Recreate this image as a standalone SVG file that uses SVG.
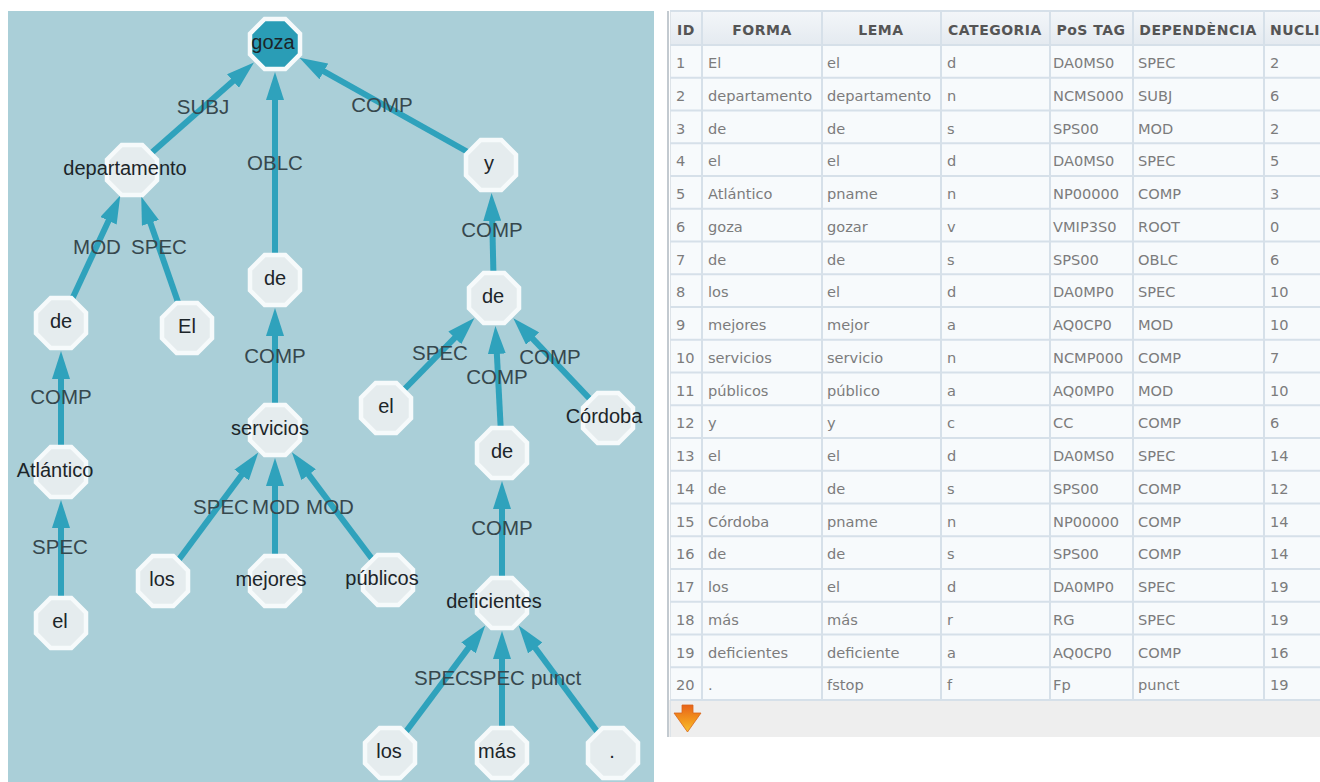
<svg xmlns="http://www.w3.org/2000/svg" xmlns:xlink="http://www.w3.org/1999/xlink" width="1320" height="782" viewBox="0 0 1320 782">
<style>
.panel{fill:#AACFD8}
.edge{stroke:#2FA2BC;stroke-width:6;fill:none;marker-end:url(#ah)}
.elab{font-family:"Liberation Sans",Arial,sans-serif;font-size:20.5px;fill:#36474D;text-anchor:middle}
.node{fill:#E5ECEE;stroke:#F6FAFB;stroke-width:4.5}
.root{fill:#2A9DB6}
.nlab{font-family:"Liberation Sans",Arial,sans-serif;font-size:20px;fill:#1C2529;stroke:none;text-anchor:middle}
.th{font-family:"DejaVu Sans",Verdana,sans-serif;font-weight:bold;font-size:14px;letter-spacing:0.5px;fill:#555;text-anchor:middle}
.td{font-family:"DejaVu Sans",Verdana,sans-serif;font-size:14.6px;fill:#7C7C7C}
.grid{stroke:#D6E0E9;stroke-width:2;fill:none}
</style>
<defs>
<marker id="ah" viewBox="0 0 28 18" markerWidth="28" markerHeight="18" refX="1" refY="9" orient="auto" markerUnits="userSpaceOnUse">
<path d="M0,0 L28,9 L0,18 z" fill="#2FA2BC"/>
</marker>
<polygon id="oct" points="-10.36,-25 10.36,-25 25,-10.36 25,10.36 10.36,25 -10.36,25 -25,10.36 -25,-10.36"/>
<linearGradient id="hdr" x1="0" y1="0" x2="0" y2="1">
<stop offset="0" stop-color="#F3F6F9"/><stop offset="1" stop-color="#E4EAF0"/>
</linearGradient>
<linearGradient id="org" x1="0" y1="0" x2="0" y2="1">
<stop offset="0" stop-color="#E8631A"/><stop offset="0.6" stop-color="#F39A1E"/><stop offset="1" stop-color="#F7C12E"/>
</linearGradient>
</defs>
<rect width="1320" height="782" fill="#FFFFFF"/>
<rect class="panel" x="8" y="11" width="646" height="771"/>

<g id="connectors">
<line class="edge" x1="132" y1="170" x2="233.7" y2="80.4"/>
<line class="edge" x1="275" y1="280" x2="275" y2="99"/>
<line class="edge" x1="491" y1="165" x2="323" y2="70.9"/>
<line class="edge" x1="61" y1="323" x2="108.9" y2="219.9"/>
<line class="edge" x1="187" y1="328" x2="150.1" y2="221.9"/>
<line class="edge" x1="275" y1="430" x2="275" y2="335"/>
<line class="edge" x1="494" y1="298" x2="492.2" y2="220"/>
<line class="edge" x1="61" y1="472" x2="61" y2="378"/>
<line class="edge" x1="163" y1="581" x2="242.2" y2="474.2"/>
<line class="edge" x1="275" y1="581" x2="275" y2="485"/>
<line class="edge" x1="388" y1="580" x2="308.1" y2="473.9"/>
<line class="edge" x1="386" y1="408" x2="455.5" y2="337.2"/>
<line class="edge" x1="502" y1="453" x2="496.8" y2="352.9"/>
<line class="edge" x1="608" y1="418" x2="531.9" y2="337.9"/>
<line class="edge" x1="61" y1="623" x2="61" y2="527"/>
<line class="edge" x1="502" y1="603" x2="502" y2="508"/>
<line class="edge" x1="390" y1="753" x2="469.1" y2="647.1"/>
<line class="edge" x1="502" y1="753" x2="502" y2="658"/>
<line class="edge" x1="613" y1="753" x2="534.7" y2="647.2"/>
<g id="edge-labels">
<text class="elab" x="203" y="114">SUBJ</text>
<text class="elab" x="275" y="170">OBLC</text>
<text class="elab" x="382" y="112">COMP</text>
<text class="elab" x="97" y="254">MOD</text>
<text class="elab" x="159" y="254">SPEC</text>
<text class="elab" x="492" y="237">COMP</text>
<text class="elab" x="61" y="404">COMP</text>
<text class="elab" x="275" y="363">COMP</text>
<text class="elab" x="440" y="360">SPEC</text>
<text class="elab" x="497" y="384">COMP</text>
<text class="elab" x="550" y="364">COMP</text>
<text class="elab" x="60" y="554">SPEC</text>
<text class="elab" x="221" y="514">SPEC</text>
<text class="elab" x="276" y="514">MOD</text>
<text class="elab" x="330" y="514">MOD</text>
<text class="elab" x="502" y="535">COMP</text>
<text class="elab" x="442" y="685">SPEC</text>
<text class="elab" x="497" y="685">SPEC</text>
<text class="elab" x="556" y="685">punct</text>
</g>
</g>

<g id="n6" class="node root"><use href="#oct" x="275" y="44"/><text class="nlab" x="273" y="49">goza</text></g>
<g id="n2" class="node"><use href="#oct" x="132" y="170"/><text class="nlab" x="125" y="175">departamento</text></g>
<g id="n7" class="node"><use href="#oct" x="275" y="280"/><text class="nlab" x="275" y="285">de</text></g>
<g id="n12" class="node"><use href="#oct" x="491" y="165"/><text class="nlab" x="489" y="170">y</text></g>
<g id="n3" class="node"><use href="#oct" x="61" y="323"/><text class="nlab" x="61" y="328">de</text></g>
<g id="n1" class="node"><use href="#oct" x="187" y="328"/><text class="nlab" x="187" y="333">El</text></g>
<g id="n14" class="node"><use href="#oct" x="494" y="298"/><text class="nlab" x="493" y="303">de</text></g>
<g id="n5" class="node"><use href="#oct" x="61" y="472"/><text class="nlab" x="55" y="477">Atlántico</text></g>
<g id="n10" class="node"><use href="#oct" x="275" y="430"/><text class="nlab" x="270" y="435">servicios</text></g>
<g id="n13" class="node"><use href="#oct" x="386" y="408"/><text class="nlab" x="386" y="413">el</text></g>
<g id="n15" class="node"><use href="#oct" x="608" y="418"/><text class="nlab" x="604" y="423">Córdoba</text></g>
<g id="n16" class="node"><use href="#oct" x="502" y="453"/><text class="nlab" x="502" y="458">de</text></g>
<g id="n4" class="node"><use href="#oct" x="61" y="623"/><text class="nlab" x="60" y="628">el</text></g>
<g id="n8" class="node"><use href="#oct" x="163" y="581"/><text class="nlab" x="162" y="586">los</text></g>
<g id="n9" class="node"><use href="#oct" x="275" y="581"/><text class="nlab" x="271" y="586">mejores</text></g>
<g id="n11" class="node"><use href="#oct" x="388" y="580"/><text class="nlab" x="382" y="585">públicos</text></g>
<g id="n19" class="node"><use href="#oct" x="502" y="603"/><text class="nlab" x="494" y="608">deficientes</text></g>
<g id="n17" class="node"><use href="#oct" x="390" y="753"/><text class="nlab" x="389" y="758">los</text></g>
<g id="n18" class="node"><use href="#oct" x="502" y="753"/><text class="nlab" x="497" y="758">más</text></g>
<g id="n20" class="node"><use href="#oct" x="613" y="753"/><text class="nlab" x="612" y="758">.</text></g>

<g id="table">
<rect x="670" y="11" width="650" height="34" fill="url(#hdr)"/>
<rect x="670" y="45" width="650" height="655" fill="#F7FAFC"/>
<rect x="668" y="700" width="652" height="37" fill="#EEEEEE"/>
<line x1="668" y1="11" x2="668" y2="737" stroke="#C3CAD0" stroke-width="2"/>
<line x1="670.5" y1="11" x2="670.5" y2="737" stroke="#DDE3E8" stroke-width="1"/>
<path class="grid" d="M670,11H1320 M670,45H1320 M670,77.75H1320 M670,110.5H1320 M670,143.25H1320 M670,176H1320 M670,208.75H1320 M670,241.5H1320 M670,274.25H1320 M670,307H1320 M670,339.75H1320 M670,372.5H1320 M670,405.25H1320 M670,438H1320 M670,470.75H1320 M670,503.5H1320 M670,536.25H1320 M670,569H1320 M670,601.75H1320 M670,634.5H1320 M670,667.25H1320 M670,700H1320"/>
<path class="grid" d="M702,11V700 M822,11V700 M941,11V700 M1050,11V700 M1133,11V700 M1264,11V700"/>
<text class="th" x="686" y="35">ID</text>
<text class="th" x="762" y="35">FORMA</text>
<text class="th" x="881" y="35">LEMA</text>
<text class="th" x="995" y="35">CATEGORIA</text>
<text class="th" x="1091" y="35">PoS TAG</text>
<text class="th" x="1198" y="35">DEPENDÈNCIA</text>
<text class="th" x="1270" y="35" style="text-anchor:start">NUCLI</text>
<g class="td">
<text x="676" y="68">1</text><text x="708" y="68">El</text><text x="827" y="68">el</text><text x="947" y="68">d</text><text x="1053" y="68">DA0MS0</text><text x="1138" y="68">SPEC</text><text x="1270" y="68">2</text>
<text x="676" y="100.75">2</text><text x="708" y="100.75">departamento</text><text x="827" y="100.75">departamento</text><text x="947" y="100.75">n</text><text x="1053" y="100.75">NCMS000</text><text x="1138" y="100.75">SUBJ</text><text x="1270" y="100.75">6</text>
<text x="676" y="133.5">3</text><text x="708" y="133.5">de</text><text x="827" y="133.5">de</text><text x="947" y="133.5">s</text><text x="1053" y="133.5">SPS00</text><text x="1138" y="133.5">MOD</text><text x="1270" y="133.5">2</text>
<text x="676" y="166.25">4</text><text x="708" y="166.25">el</text><text x="827" y="166.25">el</text><text x="947" y="166.25">d</text><text x="1053" y="166.25">DA0MS0</text><text x="1138" y="166.25">SPEC</text><text x="1270" y="166.25">5</text>
<text x="676" y="199">5</text><text x="708" y="199">Atlántico</text><text x="827" y="199">pname</text><text x="947" y="199">n</text><text x="1053" y="199">NP00000</text><text x="1138" y="199">COMP</text><text x="1270" y="199">3</text>
<text x="676" y="231.75">6</text><text x="708" y="231.75">goza</text><text x="827" y="231.75">gozar</text><text x="947" y="231.75">v</text><text x="1053" y="231.75">VMIP3S0</text><text x="1138" y="231.75">ROOT</text><text x="1270" y="231.75">0</text>
<text x="676" y="264.5">7</text><text x="708" y="264.5">de</text><text x="827" y="264.5">de</text><text x="947" y="264.5">s</text><text x="1053" y="264.5">SPS00</text><text x="1138" y="264.5">OBLC</text><text x="1270" y="264.5">6</text>
<text x="676" y="297.25">8</text><text x="708" y="297.25">los</text><text x="827" y="297.25">el</text><text x="947" y="297.25">d</text><text x="1053" y="297.25">DA0MP0</text><text x="1138" y="297.25">SPEC</text><text x="1270" y="297.25">10</text>
<text x="676" y="330">9</text><text x="708" y="330">mejores</text><text x="827" y="330">mejor</text><text x="947" y="330">a</text><text x="1053" y="330">AQ0CP0</text><text x="1138" y="330">MOD</text><text x="1270" y="330">10</text>
<text x="676" y="362.75">10</text><text x="708" y="362.75">servicios</text><text x="827" y="362.75">servicio</text><text x="947" y="362.75">n</text><text x="1053" y="362.75">NCMP000</text><text x="1138" y="362.75">COMP</text><text x="1270" y="362.75">7</text>
<text x="676" y="395.5">11</text><text x="708" y="395.5">públicos</text><text x="827" y="395.5">público</text><text x="947" y="395.5">a</text><text x="1053" y="395.5">AQ0MP0</text><text x="1138" y="395.5">MOD</text><text x="1270" y="395.5">10</text>
<text x="676" y="428.25">12</text><text x="708" y="428.25">y</text><text x="827" y="428.25">y</text><text x="947" y="428.25">c</text><text x="1053" y="428.25">CC</text><text x="1138" y="428.25">COMP</text><text x="1270" y="428.25">6</text>
<text x="676" y="461">13</text><text x="708" y="461">el</text><text x="827" y="461">el</text><text x="947" y="461">d</text><text x="1053" y="461">DA0MS0</text><text x="1138" y="461">SPEC</text><text x="1270" y="461">14</text>
<text x="676" y="493.75">14</text><text x="708" y="493.75">de</text><text x="827" y="493.75">de</text><text x="947" y="493.75">s</text><text x="1053" y="493.75">SPS00</text><text x="1138" y="493.75">COMP</text><text x="1270" y="493.75">12</text>
<text x="676" y="526.5">15</text><text x="708" y="526.5">Córdoba</text><text x="827" y="526.5">pname</text><text x="947" y="526.5">n</text><text x="1053" y="526.5">NP00000</text><text x="1138" y="526.5">COMP</text><text x="1270" y="526.5">14</text>
<text x="676" y="559.25">16</text><text x="708" y="559.25">de</text><text x="827" y="559.25">de</text><text x="947" y="559.25">s</text><text x="1053" y="559.25">SPS00</text><text x="1138" y="559.25">COMP</text><text x="1270" y="559.25">14</text>
<text x="676" y="592">17</text><text x="708" y="592">los</text><text x="827" y="592">el</text><text x="947" y="592">d</text><text x="1053" y="592">DA0MP0</text><text x="1138" y="592">SPEC</text><text x="1270" y="592">19</text>
<text x="676" y="624.75">18</text><text x="708" y="624.75">más</text><text x="827" y="624.75">más</text><text x="947" y="624.75">r</text><text x="1053" y="624.75">RG</text><text x="1138" y="624.75">SPEC</text><text x="1270" y="624.75">19</text>
<text x="676" y="657.5">19</text><text x="708" y="657.5">deficientes</text><text x="827" y="657.5">deficiente</text><text x="947" y="657.5">a</text><text x="1053" y="657.5">AQ0CP0</text><text x="1138" y="657.5">COMP</text><text x="1270" y="657.5">16</text>
<text x="676" y="690.25">20</text><text x="708" y="690.25">.</text><text x="827" y="690.25">fstop</text><text x="947" y="690.25">f</text><text x="1053" y="690.25">Fp</text><text x="1138" y="690.25">punct</text><text x="1270" y="690.25">19</text>
</g>
<polygon points="682,705 693,705 693,713 701,713 687.5,732 674,713 682,713" fill="url(#org)" stroke="#D9651A" stroke-width="0.8"/>
</g>
</svg>
